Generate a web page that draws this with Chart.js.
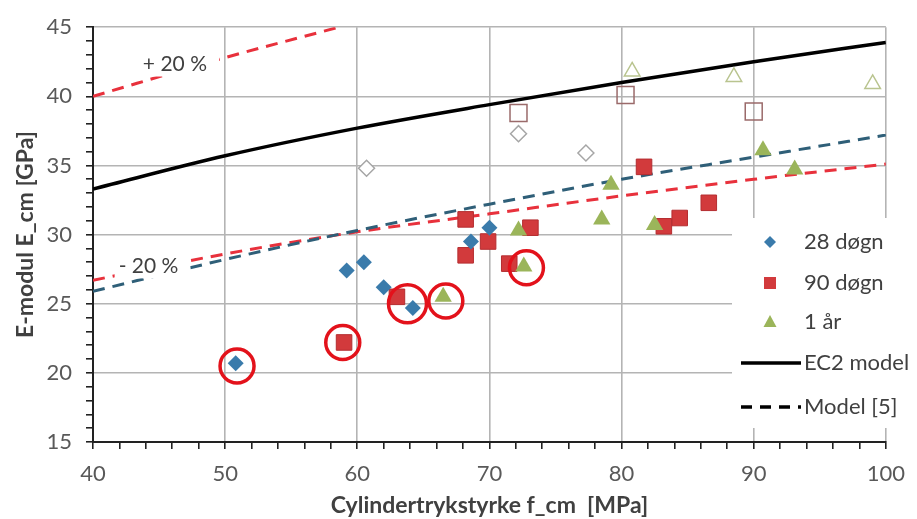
<!DOCTYPE html>
<html>
<head>
<meta charset="utf-8">
<script src="https://cdn.jsdelivr.net/npm/chart.js@4.4.0/dist/chart.umd.min.js"></script>
<style>
  html, body { margin: 0; padding: 0; background: #fff; }
  #wrap { width: 917px; height: 519px; }
</style>
</head>
<body>
<div id="wrap"><canvas id="EmodulChart"></canvas></div>
<script>
// 28 døgn
const x28 = [50.8, 59.2, 60.5, 62.0, 64.2, 68.6, 70.0]
const y28 = [20.7, 27.4, 28.0, 26.2, 24.7, 29.5, 30.5]
// 90 døgn
const x90 = [59.0, 63.0, 68.2, 68.2, 69.9, 71.5, 73.1, 81.7, 83.2, 84.4, 86.6]
const y90 = [22.2, 25.5, 31.1, 28.5, 29.5, 27.9, 30.5, 34.9, 30.6, 31.2, 32.3]
// 1 år
const x1 = [66.5, 72.2, 72.6, 78.5, 79.2, 82.5, 90.7, 93.1]
const y1 = [25.5, 30.3, 27.7, 31.1, 33.6, 30.7, 36.1, 34.7]
// åpne markører (ikke i legend)
const xOpenDia = [60.7, 72.2, 77.3]
const yOpenDia = [34.8, 37.3, 35.9]
const xOpenSq = [72.2, 80.3, 90.0]
const yOpenSq = [38.8, 40.1, 38.9]
const xOpenTri = [80.8, 88.5, 99.0]
const yOpenTri = [41.8, 41.4, 40.9]
// røde ringer
const xRing = [50.9, 58.9, 63.8, 66.7, 72.8]
const yRing = [20.5, 22.2, 25.0, 25.2, 27.6]
// modell-linjer
const xModel = [40, 50, 60, 70, 80, 90, 100]
const yEC2 = [33.3, 35.7, 37.7, 39.4, 41.0, 42.5, 43.9]
const yMinus20 = [26.7, 28.6, 30.2, 31.5, 32.8, 34.0, 35.1]
const yModel5 = [25.9, 28.2, 30.3, 32.2, 34.0, 35.6, 37.2]
const xPlus20 = [40, 50, 58.6]
const yPlus20 = [40.0, 42.8, 45.0]

const xTicks = [40, 50, 60, 70, 80, 90, 100]
const yTicks = [15, 20, 25, 30, 35, 40, 45]

const pts = (xs, ys) => xs.map((x, i) => ({x: x, y: ys[i]}))

const blue = '#3a7bab'
const red = '#d23a3c'
const green = '#9bb55a'
const font = 'Lato'

const data = {
    datasets: [
        {label: 'ring', data: pts(xRing, yRing), pointStyle: 'circle', backgroundColor: 'rgba(0,0,0,0)',
         borderColor: '#e3121b', borderWidth: 3.5, pointRadius: ctx => ctx.dataIndex === 2 ? 19 : 17, order: 0},
        {label: '28 døgn', inLegend: true, data: pts(x28, y28), pointStyle: 'rectRot', backgroundColor: blue,
         borderColor: blue, borderWidth: 0, pointRadius: 8, order: 1},
        {label: '1 år', inLegend: true, data: pts(x1, y1), pointStyle: 'triangle', backgroundColor: green,
         borderColor: green, borderWidth: 0, pointRadius: 10, order: 2},
        {label: '90 døgn', inLegend: true, data: pts(x90, y90), pointStyle: 'rect', backgroundColor: red,
         borderColor: '#b52d30', borderWidth: 1, pointRadius: 11, order: 3},
        {label: 'open1', data: pts(xOpenDia, yOpenDia), pointStyle: 'rectRot', backgroundColor: '#fff',
         borderColor: '#a6a6a6', borderWidth: 1.5, pointRadius: 8, order: 4},
        {label: 'open2', data: pts(xOpenSq, yOpenSq), pointStyle: 'rect', backgroundColor: 'rgba(0,0,0,0)',
         borderColor: '#9a6a6a', borderWidth: 1.5, pointRadius: 12, order: 4},
        {label: 'open3', data: pts(xOpenTri, yOpenTri), pointStyle: 'triangle', backgroundColor: 'rgba(0,0,0,0)',
         borderColor: '#b9c48f', borderWidth: 1.5, pointRadius: 9, order: 4},
        {label: 'EC2 model', inLegend: true, type: 'line', data: pts(xModel, yEC2), borderColor: '#000',
         borderWidth: 3.5, pointRadius: 0, cubicInterpolationMode: 'monotone', order: 5},
        {label: 'Model [5]', inLegend: true, type: 'line', data: pts(xModel, yModel5), borderColor: '#2f5f78',
         borderDash: [12, 8], borderWidth: 3, pointRadius: 0, cubicInterpolationMode: 'monotone', order: 6},
        {label: '-20', type: 'line', data: pts(xModel, yMinus20), borderColor: '#e8313c',
         borderDash: [12, 8], borderWidth: 3, pointRadius: 0, cubicInterpolationMode: 'monotone', order: 7},
        {label: '+20', type: 'line', data: pts(xPlus20, yPlus20), borderColor: '#e8313c',
         borderDash: [12, 8], borderWidth: 3, pointRadius: 0, cubicInterpolationMode: 'monotone', order: 7}
    ]
}

// tekst "+ 20 %" og "- 20 %" med hvit bakgrunn
const notes = {
    id: 'notes',
    afterDatasetsDraw(chart) {
        const ctx = chart.ctx
        const xs = chart.scales.x, ys = chart.scales.y
        const list = [['+ 20 %', 46.2, 42.3], ['- 20 %', 44.2, 27.7]]
        ctx.save()
        ctx.font = '21px ' + font
        ctx.textBaseline = 'middle'
        ctx.textAlign = 'center'
        list.forEach(n => {
            const px = xs.getPixelForValue(n[1]), py = ys.getPixelForValue(n[2])
            const w = ctx.measureText(n[0]).width
            ctx.fillStyle = '#fff'
            ctx.fillRect(px - w / 2 - 4, py - 12, w + 16, 24)
            ctx.fillStyle = '#404040'
            ctx.fillText(n[0], px, py)
        })
        ctx.restore()
    }
}

// egen legend inne i plottet
const boxLegend = {
    id: 'boxLegend',
    afterDraw(chart) {
        const ctx = chart.ctx
        const rows = [242, 283, 322, 363, 407]
        const items = chart.data.datasets.filter(d => d.inLegend)
        const order = ['28 døgn', '90 døgn', '1 år', 'EC2 model', 'Model [5]']
        ctx.save()
        ctx.fillStyle = '#fff'
        ctx.fillRect(732, 218, 185, 210)
        ctx.font = '22px ' + font
        ctx.textBaseline = 'middle'
        order.forEach((name, i) => {
            const d = items.find(it => it.label === name)
            const y = rows[i]
            const mx = 770
            ctx.fillStyle = d.backgroundColor || d.borderColor
            ctx.beginPath()
            if (d.pointStyle === 'rectRot') {
                ctx.moveTo(mx, y - 6); ctx.lineTo(mx + 6, y); ctx.lineTo(mx, y + 6); ctx.lineTo(mx - 6, y); ctx.closePath(); ctx.fill()
            } else if (d.pointStyle === 'rect') {
                ctx.fillRect(mx - 6, y - 6, 12, 12)
            } else if (d.pointStyle === 'triangle') {
                ctx.moveTo(mx, y - 7); ctx.lineTo(mx + 6.5, y + 5); ctx.lineTo(mx - 6.5, y + 5); ctx.closePath(); ctx.fill()
            } else {
                ctx.strokeStyle = '#000'
                ctx.lineWidth = 3.5
                ctx.setLineDash(d.borderDash ? [11, 8] : [])
                ctx.moveTo(741, y); ctx.lineTo(801, y); ctx.stroke()
                ctx.setLineDash([])
            }
            ctx.fillStyle = '#404040'
            ctx.fillText(name, 804, y)
        })
        ctx.restore()
    }
}

const config = {
    type: 'scatter',
    data: data,
    options: {
        responsive: true,
        maintainAspectRatio: false,
        animation: false,
        layout: {padding: {top: 25, right: 29, left: 0, bottom: 0}},
        plugins: {
            legend: {display: false},
            tooltip: {enabled: false}
        },
        scales: {
            x: {
                type: 'linear', min: 40, max: 100,
                afterFit: s => { s.height = 77 },
                border: {color: '#222', width: 2},
                grid: {
                    color: ctx => xTicks.includes(ctx.tick.value) ? '#b4b4b4' : 'rgba(0,0,0,0)',
                    lineWidth: 1.6, tickLength: 7, tickColor: '#222', tickWidth: 1.6
                },
                ticks: {
                    stepSize: 2, autoSkip: false, maxRotation: 0, padding: 12,
                    color: '#595959', font: {family: font, size: 22},
                    callback: v => xTicks.includes(v) ? v : ''
                },
                title: {
                    display: true, text: 'Cylindertrykstyrke f_cm  [MPa]', color: '#404040',
                    font: {family: font, size: 23, weight: 'bold'}, padding: {top: 0, bottom: 0}
                }
            },
            y: {
                min: 15, max: 45,
                afterFit: s => { s.width = 93 },
                border: {color: '#222', width: 2},
                grid: {
                    color: ctx => yTicks.includes(ctx.tick.value) ? '#b4b4b4' : 'rgba(0,0,0,0)',
                    lineWidth: 1.6, tickLength: 7, tickColor: '#222', tickWidth: 1.6
                },
                ticks: {
                    stepSize: 1, autoSkip: false, padding: 14,
                    color: '#595959', font: {family: font, size: 22},
                    callback: v => yTicks.includes(v) ? v : ''
                },
                title: {
                    display: true, text: 'E-modul E_cm [GPa]', color: '#404040',
                    font: {family: font, size: 23, weight: 'bold'}, padding: {top: 12, bottom: 0}
                }
            }
        }
    },
    plugins: [notes, boxLegend]
}

new Chart(document.getElementById('EmodulChart'), config)
</script>
</body>
</html>
